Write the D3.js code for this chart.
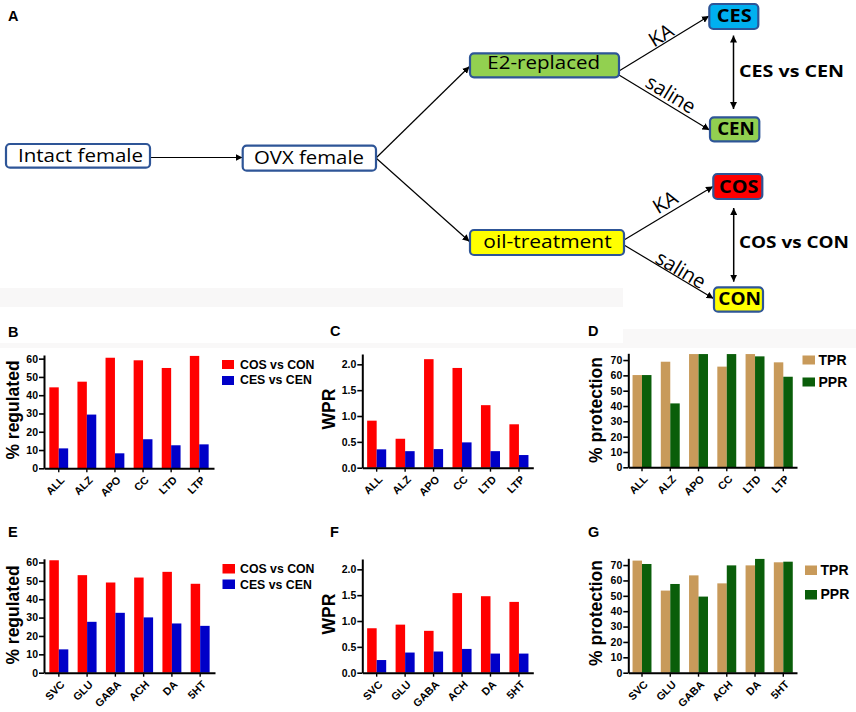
<!DOCTYPE html>
<html><head><meta charset="utf-8">
<script src="https://cdn.jsdelivr.net/npm/d3@7"></script>
<style>body{margin:0;background:#fff}svg{display:block}</style>
</head><body>
<script>
// ---------- DATA ----------
const catsTop = ["ALL","ALZ","APO","CC","LTD","LTP"];
const catsBottom = ["SVC","GLU","GABA","ACH","DA","5HT"];
const regSeries = ["COS vs CON","CES vs CEN"];
const protSeries = ["TPR","PPR"];

const regTopCOS = [44.3,47.4,60.5,59.1,54.9,61.5];
const regTopCES = [10.9,29.4,8.2,15.9,12.6,13.1];
const wprTopCOS = [0.91,0.56,2.10,1.93,1.21,0.84];
const wprTopCES = [0.355,0.32,0.36,0.49,0.32,0.245];
const protTopTPR = [60.2,68.9,73.9,65.7,73.9,68.5];
const protTopPPR = [60.2,41.7,73.9,73.9,72.4,59.1];

const regBotCOS = [61.2,53.1,49.1,51.8,54.9,48.4];
const regBotCES = [12.7,27.7,32.6,30.1,26.8,25.5];
const wprBotCOS = [0.86,0.93,0.81,1.54,1.48,1.37];
const wprBotCES = [0.245,0.39,0.41,0.46,0.37,0.37];
const protBotTPR = [72.9,53.4,63.3,58.1,69.8,71.8];
const protBotPPR = [70.7,57.7,49.5,69.8,74.0,72.2];

const regTicks = [0,10,20,30,40,50,60];
const wprTicks = [0,0.5,1.0,1.5,2.0];
const protTicks = [0,10,20,30,40,50,60,70];

// diagram content
const diagramNodes = ["Intact female","OVX female","E2-replaced","oil-treatment","CES","CEN","COS","CON"];
const comparisons = ["CES vs CEN","COS vs CON"];
const treatments = ["KA","saline"];

// ---------- STYLE ----------
const W = 856, H = 712;
const FONT = "'Liberation Sans', Arial, Helvetica, sans-serif";
const DFONT = "'Open Sans', 'Noto Sans', sans-serif";
const cRed = "#ff0000", cBlue = "#0000c8", cTan = "#c89a5a", cGreen = "#0a5e0a";
const boxStroke = "#2e5597";

const svg = d3.select("body").append("svg").attr("width", W).attr("height", H)
  .style("font-family", FONT);

// faint scan bands
svg.append("rect").attr("x",0).attr("y",288).attr("width",623).attr("height",19).attr("fill","#f8f7f7");
svg.append("rect").attr("x",0).attr("y",343).attr("width",623).attr("height",5).attr("fill","#f9f8f8");
svg.append("rect").attr("x",623).attr("y",329).attr("width",233).attr("height",19).attr("fill","#f9f8f8");

// ---------- DIAGRAM ----------
const defs = svg.append("defs");
defs.append("marker").attr("id","ah").attr("viewBox","0 0 10 10").attr("refX",10).attr("refY",5)
  .attr("markerWidth",7).attr("markerHeight",7).attr("markerUnits","userSpaceOnUse").attr("orient","auto-start-reverse")
  .append("path").attr("d","M0,0 L10,5 L0,10 Z").attr("fill","#000");

const boxLayout = [
  {x:6, y:144, w:144, h:23.7, fill:"#ffffff", cx:80.5, by:162.3, tl:125, bold:false, fs:19},
  {x:242.7, y:145.7, w:133.3, h:25, fill:"#ffffff", cx:309, by:164.3, tl:110, bold:false, fs:19},
  {x:470, y:53.3, w:149, h:24, fill:"#92d050", cx:543.7, by:69, tl:112.7, bold:false, fs:18},
  {x:470, y:230, w:154, h:25, fill:"#ffff00", cx:547.5, by:248.3, tl:128.4, bold:false, fs:18},
  {x:709.3, y:4, w:49, h:25, fill:"#00b0f0", cx:734.2, by:22.3, tl:35, bold:true, fs:17},
  {x:710, y:117.3, w:49.3, h:24, fill:"#92d050", cx:736, by:135, tl:37.7, bold:true, fs:17},
  {x:713.3, y:174, w:49, h:25, fill:"#ff0000", cx:738.7, by:192.7, tl:39.3, bold:true, fs:17},
  {x:714, y:287.3, w:49, h:24.4, fill:"#ffff00", cx:739.7, by:305, tl:42.7, bold:true, fs:17}
];

const arrows = [
  [150,157.5,242.5,157.5],
  [376,158,469.5,66.5],
  [376,158,469.5,241.5],
  [619,71,709,16],
  [619,75,709.5,130],
  [624,240,713,186.5],
  [624,245,713.5,298.5]
];
svg.append("g").selectAll("line").data(arrows).join("line")
  .attr("x1",d=>d[0]).attr("y1",d=>d[1]).attr("x2",d=>d[2]).attr("y2",d=>d[3])
  .attr("stroke","#000").attr("stroke-width",1.2).attr("marker-end","url(#ah)");

const dbl = [[733.5,35.5,733.5,109],[733.7,208,733.7,281.7]];
svg.append("g").selectAll("line").data(dbl).join("line")
  .attr("x1",d=>d[0]).attr("y1",d=>d[1]).attr("x2",d=>d[2]).attr("y2",d=>d[3])
  .attr("stroke","#000").attr("stroke-width",1.5)
  .attr("marker-end","url(#ah)").attr("marker-start","url(#ah)");

const gBoxes = svg.append("g");
diagramNodes.forEach((label,i)=>{
  const b = boxLayout[i];
  gBoxes.append("rect").attr("x",b.x).attr("y",b.y).attr("width",b.w).attr("height",b.h)
    .attr("rx",4).attr("fill",b.fill).attr("stroke",boxStroke).attr("stroke-width",2.2);
  gBoxes.append("text").attr("x",b.cx).attr("y",b.by).attr("text-anchor","middle")
    .attr("font-family",DFONT).attr("font-size",b.fs).attr("font-weight",b.bold?"bold":"normal")
    .attr("textLength",b.tl).attr("lengthAdjust","spacingAndGlyphs").attr("fill","#000").text(label);
});

const compLayout = [{x:739, by:76.7, tl:105},{x:739, by:248.3, tl:110}];
comparisons.forEach((t,i)=>{
  const c = compLayout[i];
  svg.append("text").attr("x",c.x).attr("y",c.by).attr("font-family",DFONT).attr("font-size",16)
    .attr("font-weight","bold").attr("textLength",c.tl).attr("lengthAdjust","spacingAndGlyphs").text(t);
});

const treatLayout = [
  {t:0, cx:661, cy:35, a:-31.4},
  {t:1, cx:671, cy:94, a:31.4},
  {t:0, cx:665, cy:202, a:-30.8},
  {t:1, cx:681, cy:269.5, a:30.5}
];
treatLayout.forEach(d=>{
  svg.append("text").attr("transform",`translate(${d.cx},${d.cy}) rotate(${d.a})`)
    .attr("text-anchor","middle").attr("dy","0.36em").attr("font-family",DFONT).attr("font-size",20)
    .text(treatments[d.t]);
});

// ---------- PANEL LETTERS ----------
const letters = [["A",8,21],["B",8,337],["C",330,336],["D",588,336],["E",8,537],["F",330,537],["G",588,537]];
svg.append("g").selectAll("text").data(letters).join("text")
  .attr("x",d=>d[1]).attr("y",d=>d[2]).attr("font-size",14.5).attr("font-weight","bold").text(d=>d[0]);

// ---------- BAR PANELS ----------
function barPanel(o){
  const g = svg.append("g");
  const x0 = d3.scaleBand().domain(o.cats).range([o.left,o.right]).paddingInner(0.33).paddingOuter(o.po||0.17);
  const x1 = d3.scaleBand().domain(o.series).range([0,x0.bandwidth()]);
  const y = d3.scaleLinear().domain([0,o.ymax]).range([o.base,o.top]);
  const rows = o.cats.map((c,i)=>({c, v:o.values.map(arr=>arr[i])}));
  g.selectAll("g.grp").data(rows).join("g").attr("transform",d=>`translate(${x0(d.c)},0)`)
    .selectAll("rect").data(d=>d.v.map((v,j)=>({v,s:o.series[j],j}))).join("rect")
    .attr("x",d=>x1(d.s)).attr("width",x1.bandwidth())
    .attr("y",d=>y(d.v)).attr("height",d=>y(0)-y(d.v))
    .attr("fill",d=>o.colors[d.j]);
  // y axis
  const ya = g.append("g").attr("transform",`translate(${o.left},0)`)
    .call(d3.axisLeft(y).tickValues(o.ticks).tickFormat(o.fmt).tickSize(5).tickSizeOuter(0));
  ya.select(".domain").attr("stroke-width",2);
  ya.selectAll(".tick line").attr("stroke-width",1.6);
  ya.selectAll(".tick text").attr("font-size",10.5).attr("font-weight","bold").attr("font-family",FONT).attr("x",-6);
  // x axis
  const xa = g.append("g").attr("transform",`translate(0,${o.base})`)
    .call(d3.axisBottom(x0).tickSize(4).tickSizeOuter(0));
  xa.select(".domain").attr("stroke-width",2);
  xa.selectAll(".tick line").attr("stroke-width",1.4);
  xa.selectAll(".tick text").attr("font-size",10.8).attr("font-weight","bold").attr("font-family",FONT)
    .attr("text-anchor","end").attr("y",0).attr("dy",0)
    .attr("transform","translate(6.5,12.5) rotate(-45)");
  // y label
  g.append("text").attr("transform",`translate(${o.lx},${o.ly}) rotate(-90)`)
    .attr("text-anchor","middle").attr("dy","0.35em").attr("font-size",17.5).attr("font-weight","bold").text(o.ylabel);
  // legend
  if(o.legend){
    o.series.forEach((s,j)=>{
      const L = o.legend[j];
      g.append("rect").attr("x",L.sx).attr("y",L.sy).attr("width",L.sw).attr("height",L.sh).attr("fill",o.colors[j]);
      g.append("text").attr("x",L.tx).attr("y",L.ty).attr("font-size",o.lfs).attr("font-weight","bold").text(s);
    });
  }
}

const f0 = d3.format("d"), f1 = d3.format(".1f");

barPanel({cats:catsTop, series:regSeries, values:[regTopCOS,regTopCES], colors:[cRed,cBlue],
  left:44, right:214, base:468.3, top:355, ymax:62, ticks:regTicks, fmt:f0, po:0.19,
  ylabel:"% regulated", lx:13, ly:410, lfs:12.3,
  legend:[{sx:222,sy:360,sw:12,sh:9,tx:240,ty:368.7},{sx:222,sy:376,sw:12,sh:9,tx:240,ty:384.3}]});
barPanel({cats:catsTop, series:regSeries, values:[wprTopCOS,wprTopCES], colors:[cRed,cBlue],
  left:362.3, right:533.3, base:467.7, top:354, ymax:2.2, ticks:wprTicks, fmt:f1,
  ylabel:"WPR", lx:328.5, ly:409});
barPanel({cats:catsTop, series:protSeries, values:[protTopTPR,protTopPPR], colors:[cTan,cGreen],
  left:628.3, right:797, base:467.3, top:353.3, ymax:74.4, ticks:protTicks, fmt:f0, po:0.15,
  ylabel:"% protection", lx:595.5, ly:410, lfs:14,
  legend:[{sx:802.5,sy:355.5,sw:12.5,sh:9,tx:818.5,ty:364.5},{sx:802.5,sy:377.5,sw:12.5,sh:9,tx:818.5,ty:386.5}]});

barPanel({cats:catsBottom, series:regSeries, values:[regBotCOS,regBotCES], colors:[cRed,cBlue],
  left:44, right:215, base:672.7, top:558.8, ymax:62, ticks:regTicks, fmt:f0, po:0.19,
  ylabel:"% regulated", lx:13, ly:615, lfs:12.3,
  legend:[{sx:222.5,sy:564,sw:12.5,sh:9.5,tx:240,ty:573.3},{sx:222.5,sy:579.5,sw:12.5,sh:9.5,tx:240,ty:588.8}]});
barPanel({cats:catsBottom, series:regSeries, values:[wprBotCOS,wprBotCES], colors:[cRed,cBlue],
  left:362.3, right:533.3, base:672.7, top:559, ymax:2.2, ticks:wprTicks, fmt:f1,
  ylabel:"WPR", lx:328.5, ly:614});
barPanel({cats:catsBottom, series:protSeries, values:[protBotTPR,protBotPPR], colors:[cTan,cGreen],
  left:628.3, right:797, base:672.7, top:558.3, ymax:74.4, ticks:protTicks, fmt:f0, po:0.15,
  ylabel:"% protection", lx:595.5, ly:613, lfs:14,
  legend:[{sx:805,sy:565.5,sw:12,sh:9.5,tx:820.5,ty:575},{sx:805,sy:590,sw:12,sh:9.5,tx:820.5,ty:599.3}]});
</script>
</body></html>
